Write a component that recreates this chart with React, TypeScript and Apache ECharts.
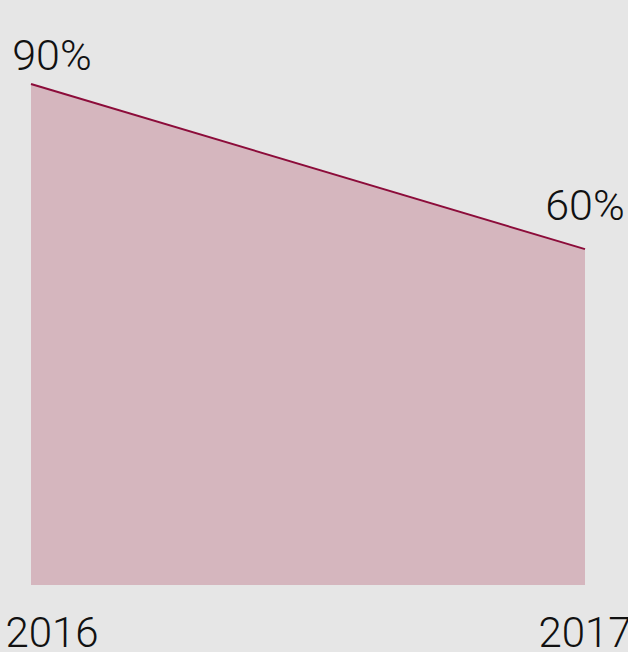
import React, { useEffect, useRef } from "react";
import * as echarts from "echarts";

const categories = ["2016", "2017"];
const values = [90, 60];
const valueLabels = ["90%", "60%"];

export default function App() {
  const ref = useRef<HTMLDivElement>(null);
  useEffect(() => {
    if (!ref.current) return;
    const chart = echarts.init(ref.current, null, { renderer: "svg" });
    const font = "Roboto";
    chart.setOption({
      animation: false,
      backgroundColor: "#e6e6e6",
      grid: { left: 31, right: 43, top: 84, bottom: 67, containLabel: false, outerBoundsMode: "none" },
      xAxis: {
        type: "category",
        boundaryGap: false,
        data: categories.map((c, i) =>
          i === 0
            ? { value: c, textStyle: { padding: [0, 0, 0, 42] } }
            : { value: c }
        ),
        axisLine: { show: false },
        axisTick: { show: false },
        splitLine: { show: false },
        axisLabel: {
          show: true,
          interval: 0,
          margin: 26,
          fontSize: 42,
          fontFamily: font,
          fontWeight: 300,
          color: "#111",
        },
      },
      yAxis: {
        type: "value",
        min: -1,
        max: 90,
        show: false,
        splitLine: { show: false },
      },
      series: [
        {
          type: "line",
          data: values.map((v, i) => ({
            value: v,
            label: {
              show: true,
              formatter: valueLabels[i],
              offset: i === 0 ? [21, -3] : [0, -18],
            },
          })),
          symbol: "circle",
          symbolSize: 0,
          showSymbol: true,
          lineStyle: { color: "#8c0c3a", width: 2 },
          itemStyle: { color: "#8c0c3a" },
          areaStyle: { color: "#d5b6be", opacity: 1, origin: "start" },
          label: {
            show: true,
            position: "top",
            distance: 5,
            fontSize: 43,
            fontFamily: font,
            fontWeight: 300,
            color: "#111",
          },
        },
      ],
    });
    return () => chart.dispose();
  }, []);
  return <div ref={ref} style={{ width: 628, height: 652, position: "absolute", left: 0, top: 0 }} />;
}
